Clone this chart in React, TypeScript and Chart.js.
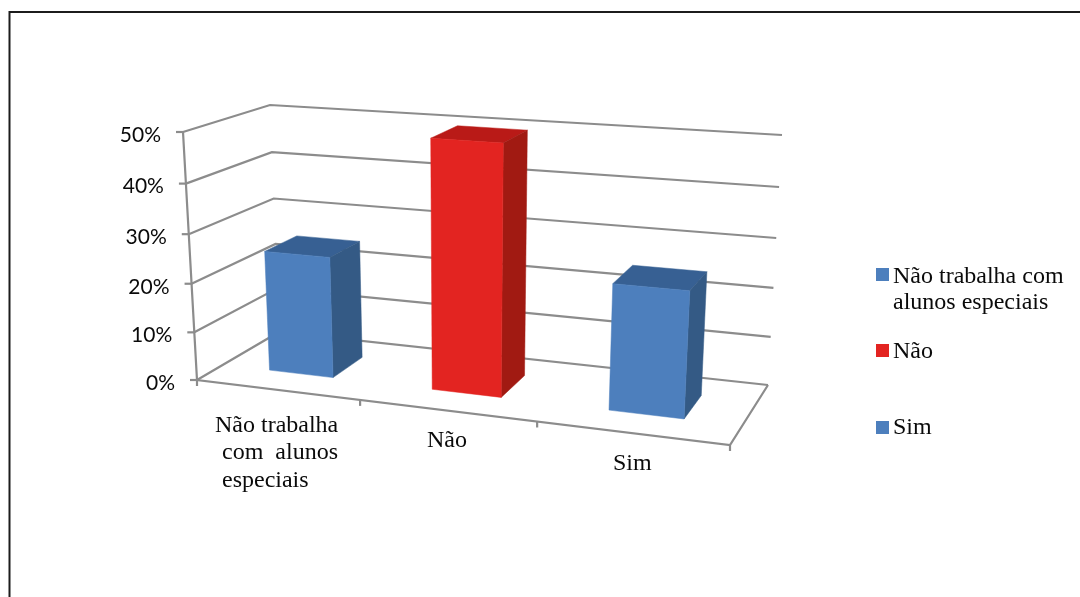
import React, { useEffect, useRef } from "react";
import { Chart, registerables } from "chart.js";

Chart.register(...registerables);

// Survey shares per answer, in percent
const categories = ["Não trabalha com alunos especiais", "Não", "Sim"];
const shares = [25, 50, 25];
const axisMax = 50;
const axisStep = 10;

// Wrapped text for the category axis and the legend
const axisLabelLines = [["Não trabalha", "com  alunos", "especiais"], ["Não"], ["Sim"]];
const legendLines = [["Não trabalha com", "alunos especiais"], ["Não"], ["Sim"]];

// Face colours of each bar
const frontColors = ["#4d7fbd", "#e32421", "#4d7fbd"];
const topColors = ["#376093", "#b91a17", "#376093"];
const sideColors = ["#345a85", "#a11a12", "#345a85"];

type Pt = { x: number; y: number };

// Corners of the 3D plot box on the canvas
const box = {
  frontLeftBottom: { x: 197, y: 380 },
  frontLeftTop: { x: 183, y: 132 },
  backLeftBottom: { x: 279, y: 332 },
  backLeftTop: { x: 270, y: 105 },
  backRightBottom: { x: 768, y: 385 },
  backRightTop: { x: 782, y: 135 },
  frontRightBottom: { x: 730, y: 445 },
  frontRightTop: { x: 745, y: 172 },
};

// Foreshortening of the box along its width and its height
const widthPerspective = 1.134;
const heightPerspective = 1.051;
const foreshorten = (t: number, k: number) => t / (t + k * (1 - t));

// Depth range that a bar occupies inside the box
const barDepthFront = 0.32;
const barDepthBack = 0.72;

const mix = (a: Pt, b: Pt, t: number): Pt => ({
  x: a.x + (b.x - a.x) * t,
  y: a.y + (b.y - a.y) * t,
});

// Projects width (0-1), height (0-1) and depth (0-1) onto the canvas
function project(w: number, h: number, d: number): Pt {
  const u = foreshorten(w, widthPerspective);
  const v = foreshorten(h, heightPerspective);
  const bottom = mix(
    mix(box.frontLeftBottom, box.frontRightBottom, u),
    mix(box.backLeftBottom, box.backRightBottom, u),
    d
  );
  const top = mix(
    mix(box.frontLeftTop, box.frontRightTop, u),
    mix(box.backLeftTop, box.backRightTop, u),
    d
  );
  return mix(bottom, top, v);
}

function polyline(ctx: CanvasRenderingContext2D, pts: Pt[]) {
  ctx.beginPath();
  pts.forEach((p, i) => (i ? ctx.lineTo(p.x, p.y) : ctx.moveTo(p.x, p.y)));
  ctx.stroke();
}

function face(ctx: CanvasRenderingContext2D, pts: Pt[], color: string) {
  ctx.beginPath();
  pts.forEach((p, i) => (i ? ctx.lineTo(p.x, p.y) : ctx.moveTo(p.x, p.y)));
  ctx.closePath();
  ctx.fillStyle = color;
  ctx.fill();
  ctx.strokeStyle = color;
  ctx.lineWidth = 0.5;
  ctx.stroke();
}

const serifFont = "24px 'Liberation Serif'";
const axisFont = "21px Lato";
const lineColor = "#8c8c8c";
const textColor = "#0a0a0a";

const plot3d = {
  id: "plot3d",
  beforeDatasetsDraw(chart: any) {
    const { ctx, scales } = chart;
    const area = chart.chartArea;
    const yScale = scales.y;
    const xCount = categories.length;
    ctx.save();

    // Page frame, running off the right and bottom edges
    ctx.strokeStyle = "#1c1c1c";
    ctx.lineWidth = 2;
    polyline(ctx, [
      { x: 9.5, y: 597 },
      { x: 9.5, y: 12 },
      { x: 1080, y: 12 },
    ]);

    ctx.strokeStyle = lineColor;
    ctx.lineWidth = 2.2;
    ctx.lineJoin = "miter";

    // Wall grid lines, one per value tick
    yScale.ticks.forEach((tick: any) => {
      const h = (area.bottom - yScale.getPixelForValue(tick.value)) / area.height;
      polyline(ctx, [project(0, h, 0), project(0, h, 1), project(1, h, 1)]);
      const start = project(0, h, 0);
      polyline(ctx, [start, { x: start.x - 7, y: start.y }]);
    });

    // Value axis and the outline of the floor
    polyline(ctx, [project(0, 1, 0), project(0, 0, 0), project(1, 0, 0), project(1, 0, 1)]);

    // Separators along the category axis
    for (let i = 0; i <= xCount; i++) {
      const p = project(i / xCount, 0, 0);
      polyline(ctx, [p, { x: p.x, y: p.y + 6 }]);
    }
    ctx.restore();
  },
  beforeDatasetDraw(chart: any, args: any) {
    const { ctx } = chart;
    const area = chart.chartArea;
    const meta = chart.getDatasetMeta(args.index);
    const toW = (px: number) => (px - area.left) / area.width;
    const toH = (px: number) => (area.bottom - px) / area.height;
    ctx.save();
    meta.data.forEach((bar: any, i: number) => {
      const w0 = toW(bar.x - bar.width / 2);
      const w1 = toW(bar.x + bar.width / 2);
      const h0 = toH(bar.base);
      const h1 = toH(bar.y);
      const fb0 = project(w0, h0, barDepthFront);
      const fb1 = project(w1, h0, barDepthFront);
      const ft0 = project(w0, h1, barDepthFront);
      const ft1 = project(w1, h1, barDepthFront);
      const bb1 = project(w1, h0, barDepthBack);
      const bt0 = project(w0, h1, barDepthBack);
      const bt1 = project(w1, h1, barDepthBack);
      face(ctx, [ft0, ft1, bt1, bt0], topColors[i]);
      face(ctx, [ft1, fb1, bb1, bt1], sideColors[i]);
      face(ctx, [ft0, ft1, fb1, fb0], frontColors[i]);
    });
    ctx.restore();
    return false;
  },
  afterDraw(chart: any) {
    const { ctx, scales } = chart;
    const area = chart.chartArea;
    const yScale = scales.y;
    ctx.save();
    ctx.fillStyle = textColor;

    // Value tick labels follow the leaning axis
    ctx.font = axisFont;
    ctx.textAlign = "right";
    ctx.textBaseline = "middle";
    yScale.ticks.forEach((tick: any) => {
      const h = (area.bottom - yScale.getPixelForValue(tick.value)) / area.height;
      const p = project(0, h, 0);
      ctx.fillText(tick.label, p.x - 22, p.y + 3);
    });

    // Category labels under the floor
    ctx.font = serifFont;
    ctx.textAlign = "left";
    ctx.textBaseline = "alphabetic";
    const labelStarts = [
      [215, 222, 222],
      [427],
      [613],
    ];
    const labelBaselines = [
      [432, 459, 487],
      [447],
      [470],
    ];
    axisLabelLines.forEach((lines, i) =>
      lines.forEach((line, j) => ctx.fillText(line, labelStarts[i][j], labelBaselines[i][j]))
    );

    // Legend on the right
    const legendSwatchTops = [268, 344, 421];
    const legendBaselines = [
      [283, 309],
      [358],
      [434],
    ];
    legendLines.forEach((lines, i) => {
      ctx.fillStyle = frontColors[i];
      ctx.fillRect(876, legendSwatchTops[i], 13, 13);
      ctx.fillStyle = textColor;
      lines.forEach((line, j) => ctx.fillText(line, 893, legendBaselines[i][j]));
    });
    ctx.restore();
  },
};

export default function App() {
  const ref = useRef<HTMLCanvasElement>(null);

  useEffect(() => {
    const chart = new Chart(ref.current!, {
      type: "bar",
      data: {
        labels: categories,
        datasets: [
          {
            data: shares,
            backgroundColor: frontColors,
            barPercentage: 0.4,
            categoryPercentage: 1,
          },
        ],
      },
      options: {
        responsive: false,
        animation: false,
        devicePixelRatio: 1,
        layout: { padding: 0 },
        plugins: {
          legend: { display: false },
          tooltip: { enabled: false },
          title: { display: false },
        },
        scales: {
          x: { display: false },
          y: {
            display: false,
            min: 0,
            max: axisMax,
            ticks: { stepSize: axisStep, callback: (v: any) => `${v}%` },
          },
        },
      },
      plugins: [plot3d],
    } as any);
    return () => chart.destroy();
  }, []);

  return (
    <canvas
      ref={ref}
      width={1080}
      height={597}
      style={{ position: "fixed", left: 0, top: 0, display: "block", background: "#fff" }}
    />
  );
}
